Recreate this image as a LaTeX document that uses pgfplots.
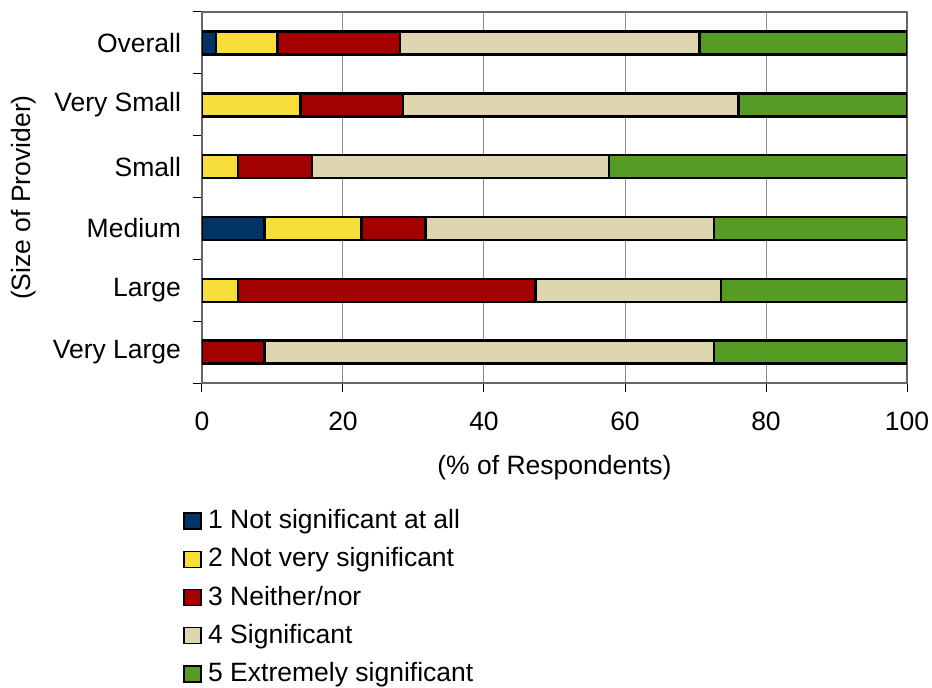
\documentclass[border=0pt]{standalone}
\usepackage{pgfplots}
\pgfplotsset{compat=1.18}
\usepackage{fontspec}
\setmainfont{Liberation Sans}

\definecolor{cone}{HTML}{003366}
\definecolor{ctwo}{HTML}{F7DE3A}
\definecolor{cthree}{HTML}{A30000}
\definecolor{cfour}{HTML}{DDD6AE}
\definecolor{cfive}{HTML}{559B24}

\newcommand{\chartfont}{\fontsize{26.5}{31}\selectfont}

\begin{document}
\chartfont
\begin{tikzpicture}
  \useasboundingbox (-202pt,-305pt) rectangle (730pt,383pt);
  \begin{axis}[
      at={(0pt,0pt)}, anchor=south west,
      width=705pt, height=371pt, scale only axis,
      xbar stacked, bar width=23pt,
      xmin=0, xmax=100, ymin=-0.5, ymax=5.5,
      xtick={0,20,40,60,80,100},
      ytick={-0.5,0.5,1.5,2.5,3.5,4.5,5.5}, yticklabels={},
      extra y ticks={0,1,2,3,4,5},
      extra y tick labels={Very Large,Large,Medium,Small,Very Small,Overall},
      extra y tick style={major tick length=0pt, yticklabel style={xshift=-12pt}},
      tick pos=left,
      xmajorgrids,
      grid style={black!45, line width=1pt},
      tick align=outside, major tick length=9pt,
      tick style={black, line width=1pt},
      axis line style={draw=black!60, line width=1.6pt},
      /pgf/number format/assume math mode=true,
      every tick label/.append style={font=\chartfont},
      xticklabel style={yshift=-11pt},
      label style={font=\chartfont},
      xlabel={(\% of Respondents)},
      xlabel style={yshift=-7pt},
      ylabel={(Size of Provider)},
      ylabel style={yshift=-10pt},
      legend style={at={(-0.027,-0.335)}, anchor=north west, draw=none, fill=none,
        font=\chartfont, inner sep=0pt, row sep=11pt},
      legend cell align=left,
      legend image code/.code={\draw[#1, line width=1.5pt] (0pt,-8pt) rectangle (17pt,8pt);
        \path (21pt,0pt);},
      every axis plot/.append style={draw=black, line width=2.5pt},
    ]
    % Very Large, Large, Medium, Small, Very Small, Overall
    \addplot[fill=cone] coordinates {(0,0) (0,1) (8.9,2) (0,3) (0,4) (2.0,5)};
    \addplot[fill=ctwo] coordinates {(0,0) (5.1,1) (13.7,2) (5.1,3) (14.0,4) (8.7,5)};
    \addplot[fill=cthree] coordinates {(8.9,0) (42.2,1) (9.1,2) (10.5,3) (14.5,4) (17.4,5)};
    \addplot[fill=cfour] coordinates {(63.7,0) (26.3,1) (40.9,2) (42.1,3) (47.6,4) (42.5,5)};
    \addplot[fill=cfive] coordinates {(27.4,0) (26.4,1) (27.4,2) (42.3,3) (23.9,4) (29.4,5)};
    \legend{1 Not significant at all, 2 Not very significant, 3 Neither/nor, 4 Significant, 5 Extremely significant}
  \end{axis}
\end{tikzpicture}
\end{document}
